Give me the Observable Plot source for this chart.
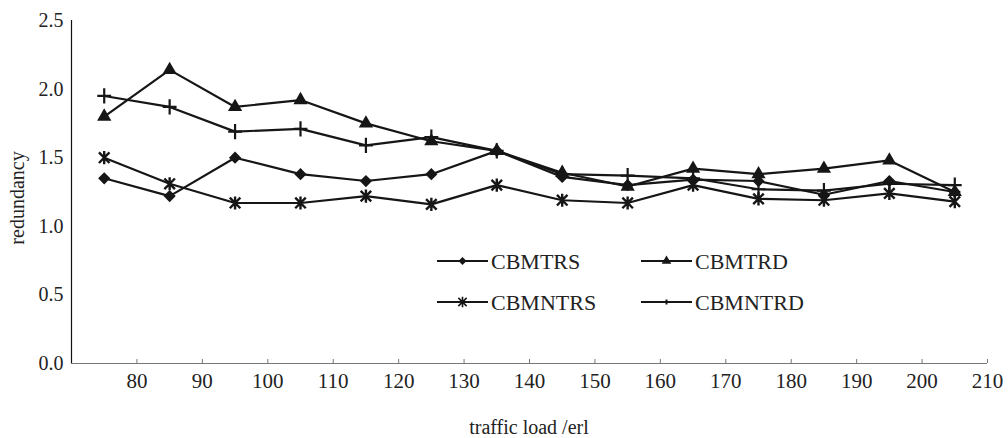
<!DOCTYPE html>
<html><head><meta charset="utf-8">
<script src="https://cdn.jsdelivr.net/npm/d3@7"></script>
<script src="https://cdn.jsdelivr.net/npm/@observablehq/plot@0.6"></script>
<style>
body{margin:0;background:#fff;}
#wrap{position:relative;width:1008px;height:438px;font-family:"Liberation Serif","Times New Roman",Times,serif;color:#222;}
#wrap svg text{font-family:"Liberation Serif","Times New Roman",Times,serif;}
#overlay{position:absolute;left:0;top:0;pointer-events:none;}
</style></head><body><div id="wrap"></div>
<script>
const loads = [75, 85, 95, 105, 115, 125, 135, 145, 155, 165, 175, 185, 195, 205];
const cbmtrs   = [1.35, 1.22, 1.50, 1.38, 1.33, 1.38, 1.55, 1.36, 1.30, 1.34, 1.33, 1.23, 1.33, 1.25];
const cbmtrd   = [1.80, 2.14, 1.87, 1.92, 1.75, 1.62, 1.55, 1.39, 1.29, 1.42, 1.38, 1.42, 1.48, 1.25];
const cbmntrs  = [1.50, 1.31, 1.17, 1.17, 1.22, 1.16, 1.30, 1.19, 1.17, 1.30, 1.20, 1.19, 1.24, 1.18];
const cbmntrd  = [1.95, 1.87, 1.69, 1.71, 1.59, 1.65, 1.55, 1.38, 1.37, 1.35, 1.27, 1.26, 1.31, 1.30];
const seriesNames = ["CBMTRS", "CBMTRD", "CBMNTRS", "CBMNTRD"];
const xDomain = [70, 210];
const yDomain = [0, 2.5];
const xTicks = [80, 90, 100, 110, 120, 130, 140, 150, 160, 170, 180, 190, 200, 210];
const yTicks = [0, 0.5, 1.0, 1.5, 2.0, 2.5];
const xTitle = "traffic load /erl";
const yTitle = "redundancy";

const seriesValues = [cbmtrs, cbmtrd, cbmntrs, cbmntrd];
const data = [];
seriesNames.forEach((name, s) => seriesValues[s].forEach((v, i) => data.push({load: loads[i], value: v, series: name})));

const FONT = '"Liberation Serif","Times New Roman",Times,serif';
// custom star: X plus vertical line
const star = {draw(ctx, size) {
  const r = Math.sqrt(size) * 0.62;
  const d = r * 0.8;
  ctx.moveTo(-d, -d); ctx.lineTo(d, d);
  ctx.moveTo(-d, d); ctx.lineTo(d, -d);
  ctx.moveTo(0, -r); ctx.lineTo(0, r);
}};
const plus = {draw(ctx, size) {
  const r = Math.sqrt(size) * 0.6;
  ctx.moveTo(-r, 0); ctx.lineTo(r, 0);
  ctx.moveTo(0, -r * 1.1); ctx.lineTo(0, r * 1.1);
}};
const ink = "#161616";
const common = {x: "load", y: "value"};
const chart = Plot.plot({
  width: 1008, height: 438,
  marginLeft: 71, marginRight: 21, marginTop: 20, marginBottom: 75,
  style: {fontFamily: FONT, fontSize: "20px", color: "#222", background: "#fff", overflow: "visible"},
  x: {domain: xDomain, label: null},
  y: {domain: yDomain, label: null},
  marks: [
    Plot.axisX({ticks: xTicks, tickSize: -4, tickPadding: 14, stroke: "#777", fontSize: 21, label: null}),
    Plot.axisY({ticks: yTicks, tickSize: 0, tickPadding: 8, tickFormat: d3.format(".1f"), fontSize: 20, label: null}),
    Plot.ruleY([yDomain[0]], {stroke: "#777", strokeWidth: 1.2}),
    Plot.ruleX([xDomain[0]], {stroke: "#111", strokeWidth: 1.2}),
    Plot.line(data, {...common, z: "series", stroke: ink, strokeWidth: 2.2}),
    Plot.dot(data.filter(d => d.series === "CBMTRS"), {...common, symbol: "diamond2", fill: ink, stroke: "none", r: 5.5}),
    Plot.dot(data.filter(d => d.series === "CBMTRD"), {...common, symbol: "triangle", fill: ink, stroke: "none", r: 5.3}),
    Plot.dot(data.filter(d => d.series === "CBMNTRS"), {...common, symbol: star, fill: "none", stroke: ink, strokeWidth: 2.4, r: 6}),
    Plot.dot(data.filter(d => d.series === "CBMNTRD"), {...common, symbol: plus, fill: "none", stroke: ink, strokeWidth: 2.2, r: 6.5})
  ]
});
const wrap = document.getElementById("wrap");
wrap.appendChild(chart);

// overlay: axis titles and legend
const svg = d3.select(wrap).append("svg").attr("id", "overlay").attr("width", 1008).attr("height", 438)
  .attr("font-family", FONT);
svg.append("text").attr("x", 529).attr("y", 428).attr("text-anchor", "middle").attr("dy", "0.32em")
  .attr("font-size", 20).attr("fill", "#222").text(xTitle);
svg.append("text").attr("transform", "translate(18,198) rotate(-90)").attr("text-anchor", "middle").attr("dy", "0.32em")
  .attr("font-size", 20).attr("fill", "#222").text(yTitle);

const legendSymbols = [
  d3.symbol(d3.symbolDiamond2, 40),
  d3.symbol(d3.symbolTriangle, 40),
  d3.symbol(star, 70),
  d3.symbol(plus, 14)
];
const legendStroke = [0, 0, 1.6, 2];
const legendPos = [[437, 261], [641, 261], [437, 302], [641, 302]];
seriesNames.forEach((name, i) => {
  const [x0, y0] = legendPos[i];
  const g = svg.append("g").attr("transform", `translate(${x0},${y0})`);
  g.append("line").attr("x1", 0).attr("x2", 51).attr("y1", 0).attr("y2", 0).attr("stroke", ink).attr("stroke-width", 2);
  const filled = i < 2;
  g.append("path").attr("d", legendSymbols[i]()).attr("transform", "translate(25.5,0)")
    .attr("fill", filled ? ink : "none").attr("stroke", filled ? "none" : ink).attr("stroke-width", legendStroke[i]);
  g.append("text").attr("x", 54).attr("y", 0).attr("dy", "0.35em").attr("font-size", 22).attr("fill", "#222").text(name);
});
</script>
</body></html>
